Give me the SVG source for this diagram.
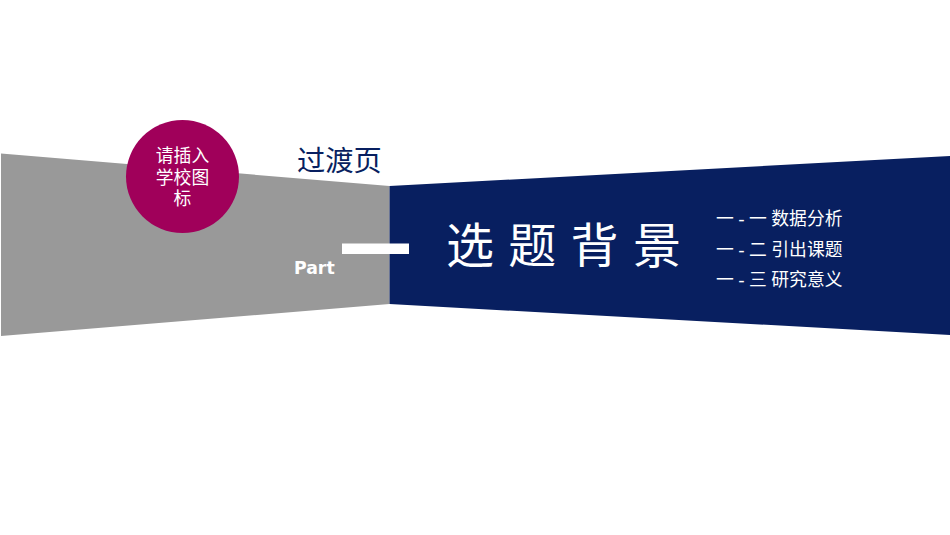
<svg xmlns="http://www.w3.org/2000/svg" width="950" height="535" viewBox="0 0 950 535">
<style>
text{font-family:"DejaVu Sans","Noto Sans CJK SC",sans-serif}
.w{fill:#fff}
.c{font-family:"Noto Sans CJK SC",sans-serif}
.m{font-size:17.8px;word-spacing:-1.2px}
</style>
<rect width="950" height="535" fill="#fff"/>
<g id="left-band"><polygon points="1,153.500 389.500,186 389.500,304 1,336" fill="#999"/></g>
<g id="right-band"><polygon points="389.500,186 950,156 950,335 389.500,304" fill="#081f60"/></g>
<g id="logo"><circle cx="182.500" cy="176.500" r="56.500" fill="#a0005a"/>
<text class="w c" font-size="17.800" text-anchor="middle"><tspan x="182.500" y="162">请插入</tspan><tspan x="182.500" y="184">学校图</tspan><tspan x="182.500" y="205">标</tspan></text></g>
<g id="heading"><text x="297" y="171" class="c" font-size="28.300" fill="#081f60">过渡页</text></g>
<g id="part"><text x="294" y="274" class="w" font-size="17.300" font-weight="bold">Part</text><rect x="342" y="243.500" width="67" height="10.500" fill="#fff"/></g>
<g id="title"><text x="446" y="263" class="w c" font-size="48" letter-spacing="14.300">选题背景</text></g>
<g id="list">
<text x="716" y="225" class="w m">一 - 一 数据分析</text>
<text x="716" y="256" class="w m">一 - 二 引出课题</text>
<text x="716" y="286" class="w m">一 - 三 研究意义</text>
</g>
</svg>
